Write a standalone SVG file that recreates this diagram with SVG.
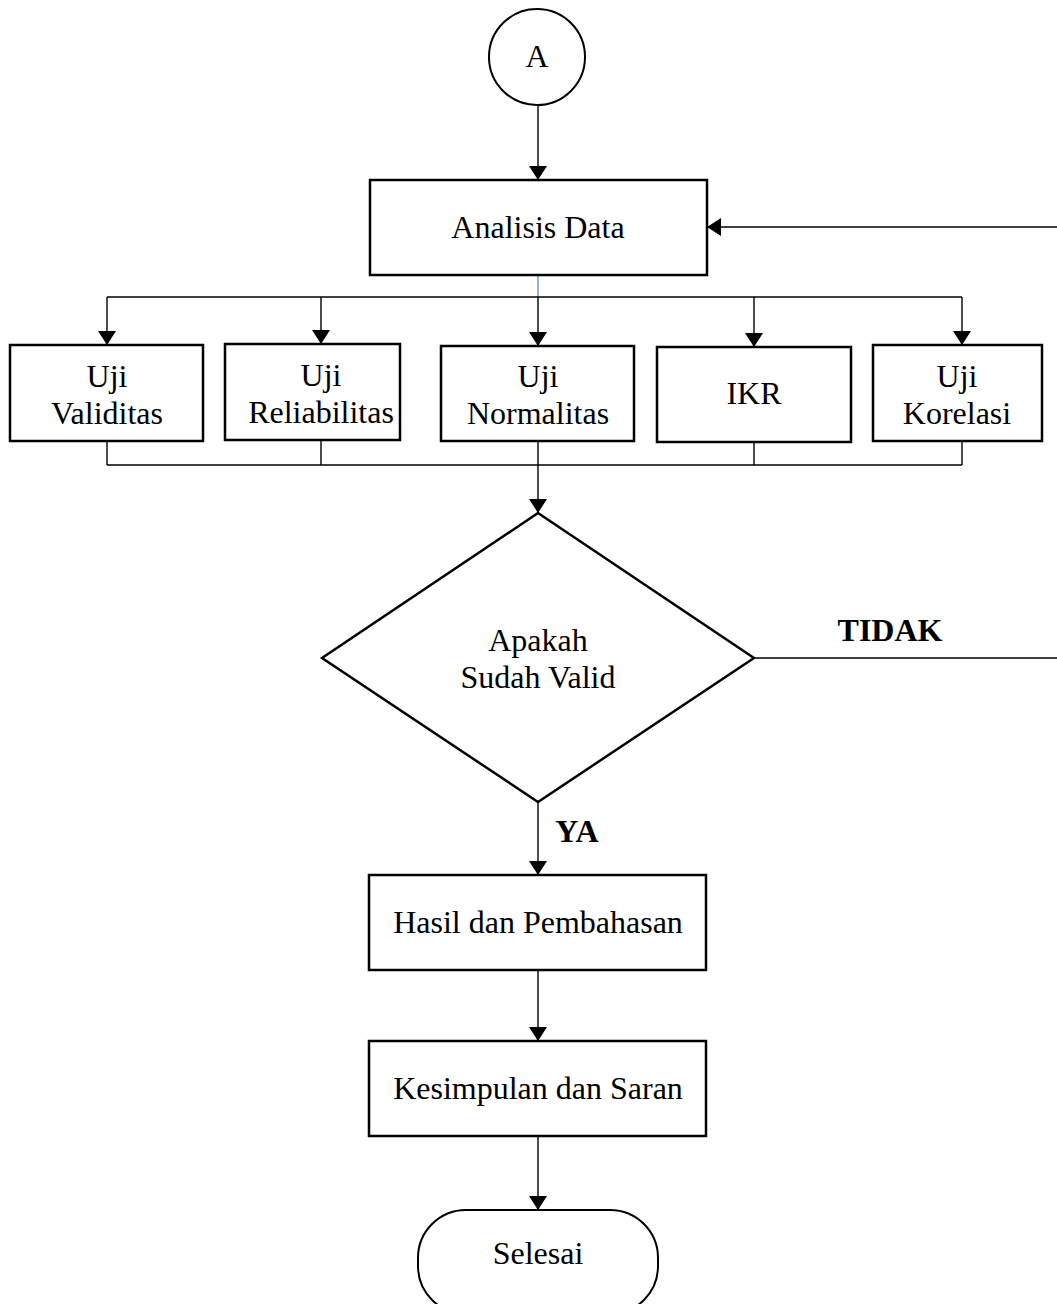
<svg xmlns="http://www.w3.org/2000/svg" width="1057" height="1304" viewBox="0 0 1057 1304">
<style>
.box{fill:#fff;stroke:#000;stroke-width:2.5}
.ln{fill:none;stroke:#000;stroke-width:1.4}
.t{font-family:"Liberation Serif","Times New Roman",serif;font-size:32px;fill:#000;text-anchor:middle}
.b{font-weight:bold}
</style>
<defs>
<marker id="ah" viewBox="0 0 14 18" refX="14" refY="9" markerWidth="14" markerHeight="18" markerUnits="userSpaceOnUse" orient="auto">
<path d="M0,0 L14,9 L0,18 Z" fill="#000"/>
</marker>
</defs>
<rect width="1057" height="1304" fill="#fff"/>
<g id="connectors">
<line class="ln" x1="538" y1="106" x2="538" y2="180" marker-end="url(#ah)"/>
<line class="ln" x1="1057" y1="227" x2="707" y2="227" marker-end="url(#ah)"/>
<line x1="538" y1="276" x2="538" y2="297" stroke="#6f8fc9" stroke-width="1.4"/>
<line class="ln" x1="107" y1="297" x2="962" y2="297"/>
<line class="ln" x1="107" y1="297" x2="107" y2="345" marker-end="url(#ah)"/>
<line class="ln" x1="321" y1="297" x2="321" y2="344" marker-end="url(#ah)"/>
<line class="ln" x1="538" y1="297" x2="538" y2="346" marker-end="url(#ah)"/>
<line class="ln" x1="754" y1="297" x2="754" y2="347" marker-end="url(#ah)"/>
<line class="ln" x1="962" y1="297" x2="962" y2="345" marker-end="url(#ah)"/>
<line class="ln" x1="107" y1="441" x2="107" y2="465"/>
<line class="ln" x1="321" y1="440" x2="321" y2="465"/>
<line class="ln" x1="754" y1="442" x2="754" y2="465"/>
<line class="ln" x1="962" y1="441" x2="962" y2="465"/>
<line class="ln" x1="107" y1="465" x2="962" y2="465"/>
<line class="ln" x1="538" y1="441" x2="538" y2="513" marker-end="url(#ah)"/>
<line class="ln" x1="754" y1="658" x2="1057" y2="658"/>
<text class="t b" x="890" y="641">TIDAK</text>
<line class="ln" x1="538" y1="802" x2="538" y2="875" marker-end="url(#ah)"/>
<text class="t b" x="577" y="842">YA</text>
<line class="ln" x1="538" y1="970" x2="538" y2="1041" marker-end="url(#ah)"/>
<line class="ln" x1="538" y1="1136" x2="538" y2="1210" marker-end="url(#ah)"/>
</g>
<g id="nodeA">
<circle cx="537" cy="57" r="48" fill="#fff" stroke="#000" stroke-width="2"/>
<text class="t" x="537" y="67">A</text>
</g>
<g id="analisis">
<rect class="box" x="370" y="180" width="337" height="95"/>
<text class="t" x="538" y="238">Analisis Data</text>
</g>
<g id="validitas">
<rect class="box" x="10" y="345" width="193" height="96"/>
<text class="t" x="107" y="387">Uji</text>
<text class="t" x="107" y="424">Validitas</text>
</g>
<g id="reliabilitas">
<rect class="box" x="225" y="344" width="175" height="96"/>
<text class="t" x="321" y="386">Uji</text>
<text class="t" x="321" y="423">Reliabilitas</text>
</g>
<g id="normalitas">
<rect class="box" x="441" y="346" width="193" height="95"/>
<text class="t" x="538" y="387">Uji</text>
<text class="t" x="538" y="424">Normalitas</text>
</g>
<g id="ikr">
<rect class="box" x="657" y="347" width="194" height="95"/>
<text class="t" x="754" y="404">IKR</text>
</g>
<g id="korelasi">
<rect class="box" x="873" y="345" width="169" height="96"/>
<text class="t" x="957" y="387">Uji</text>
<text class="t" x="957" y="424">Korelasi</text>
</g>
<g id="decision">
<polygon class="box" points="538,513 754,658 538,802 322,658" stroke-width="2"/>
<text class="t" x="538" y="651">Apakah</text>
<text class="t" x="538" y="688">Sudah Valid</text>
</g>
<g id="hasil">
<rect class="box" x="369" y="875" width="337" height="95"/>
<text class="t" x="538" y="933">Hasil dan Pembahasan</text>
</g>
<g id="kesimpulan">
<rect class="box" x="369" y="1041" width="337" height="95"/>
<text class="t" x="538" y="1099">Kesimpulan dan Saran</text>
</g>
<g id="selesai">
<rect x="418" y="1210" width="240" height="104" rx="48" ry="48" fill="#fff" stroke="#000" stroke-width="2"/>
<text class="t" x="538" y="1264">Selesai</text>
</g>
</svg>
